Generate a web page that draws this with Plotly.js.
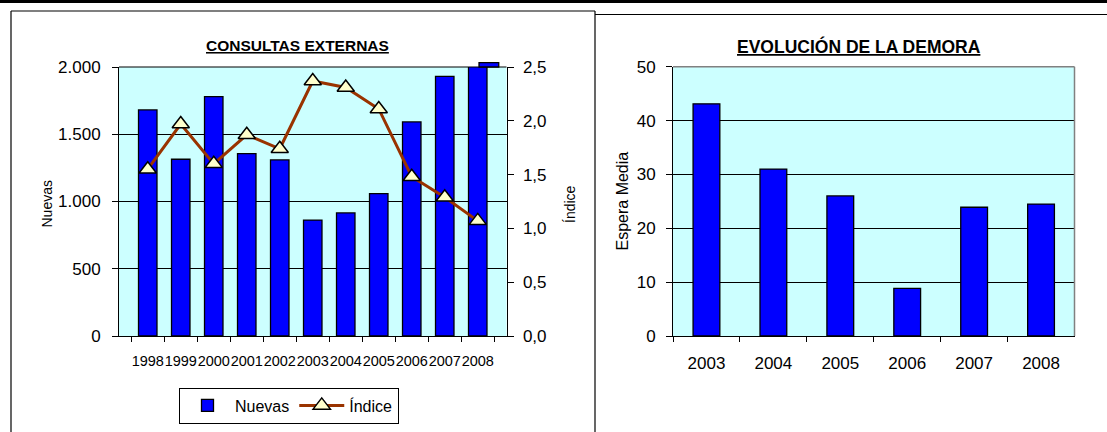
<!DOCTYPE html>
<html>
<head>
<meta charset="utf-8">
<script src="https://cdn.plot.ly/plotly-3.0.1.min.js"></script>
<style>
html,body{margin:0;padding:0;background:#fff;}
#chart{width:1107px;height:432px;}
</style>
</head>
<body>
<div id="chart"></div>
<script>
// ---- data ----
const years1 = ['1998','1999','2000','2001','2002','2003','2004','2005','2006','2007','2008'];
const nuevas = [1681, 1314, 1780, 1356, 1309, 862, 915, 1059, 1592, 1931, 2032];
const indice = [1.55, 1.97, 1.60, 1.87, 1.74, 2.37, 2.31, 2.11, 1.48, 1.29, 1.07];

const years2 = ['2003','2004','2005','2006','2007','2008'];
const espera = [43.1, 31.0, 26.0, 8.85, 23.9, 24.5];

const leftTicks = [0, 500, 1000, 1500, 2000];
const rightTicks = [0, 0.5, 1.0, 1.5, 2.0, 2.5];
const esperaTicks = [0, 10, 20, 30, 40, 50];

// ---- geometry helpers (pixels -> paper) ----
const W = 1107, H = 432;
const px = v => v / W;
const py = v => 1 - v / H;

const FONT = '"Liberation Sans", Arial, sans-serif';

const L = {x0: 119, x1: 506.5, y0: 67, y1: 336};
const R = {x0: 673, x1: 1074.5, y0: 66.7, y1: 336};
const LEFT_MAX = 2000, BAR_W1 = 0.56, BAR_W2 = 0.4;

const bound1 = years1.map((_, i) => i - 0.5).concat([years1.length - 0.5]);
const bound2 = years2.map((_, i) => i - 0.5).concat([years2.length - 0.5]);

const traces = [
  {
    type: 'bar', name: 'Nuevas', x: years1, y: nuevas, xaxis: 'x', yaxis: 'y',
    marker: {color: '#0000FF', line: {color: '#000000', width: 1.3}},
    width: BAR_W1, hoverinfo: 'x+y'
  },
  {
    type: 'scatter', mode: 'lines+markers', name: 'Índice', x: years1, y: indice,
    xaxis: 'x', yaxis: 'y2',
    line: {color: '#993300', width: 3},
    marker: {symbol: 'triangle-up', size: 15, color: '#FFFFCC', line: {color: '#000000', width: 1.5}},
    cliponaxis: false
  },
  {
    type: 'bar', name: 'Espera Media', x: years2, y: espera, xaxis: 'x2', yaxis: 'y3',
    marker: {color: '#0000FF', line: {color: '#000000', width: 1.3}},
    width: BAR_W2, showlegend: false
  }
];

const baseAxis = {
  showline: true, linecolor: '#000000', linewidth: 1,
  zeroline: false, ticks: 'outside', tickcolor: '#000000', tickwidth: 1,
  fixedrange: true
};

const insideAxis = (extra) => Object.assign({
  showline: false, showgrid: false, zeroline: false, showticklabels: false,
  ticks: 'inside', tickcolor: '#000000', tickwidth: 1, tickmode: 'array', fixedrange: true
}, extra);

// portion of bars that run past the top of the left value axis (Excel draws them beyond the frame)
const catW = (L.x1 - L.x0) / years1.length;
const overflowShapes = [];
nuevas.forEach((v, i) => {
  if (v > LEFT_MAX) {
    const cx = L.x0 + (i + 0.5) * catW;
    const yTop = L.y1 - v / LEFT_MAX * (L.y1 - L.y0);
    overflowShapes.push({
      type: 'rect', xref: 'paper', yref: 'paper',
      x0: px(cx - BAR_W1 / 2 * catW), x1: px(cx + BAR_W1 / 2 * catW),
      y0: py(L.y0), y1: py(yTop),
      fillcolor: '#0000FF', line: {color: '#000000', width: 1.3}
    });
  }
});

const layout = {
  width: W, height: H,
  margin: {l: 0, r: 0, t: 0, b: 0},
  paper_bgcolor: '#FFFFFF',
  plot_bgcolor: '#CCFFFF',
  separators: ',.',
  font: {family: FONT, size: 16, color: '#000000'},
  showlegend: true,
  legend: {
    orientation: 'h', x: px(289), xanchor: 'center', y: py(405.5), yanchor: 'middle',
    bordercolor: '#000000', borderwidth: 1, bgcolor: '#FFFFFF',
    font: {family: FONT, size: 16, color: '#000000'},
    itemwidth: 45, tracegroupgap: 0
  },
  xaxis: Object.assign({}, baseAxis, {
    type: 'category', domain: [px(L.x0), px(L.x1)], anchor: 'y',
    tickson: 'boundaries', ticklen: 5, showgrid: false, tickangle: 0,
    tickfont: {family: FONT, size: 14.5, color: '#000000'},
    ticklabelstandoff: 12
  }),
  yaxis: Object.assign({}, baseAxis, {
    domain: [py(L.y1), py(L.y0)], anchor: 'x', range: [0, LEFT_MAX],
    tickmode: 'array', tickvals: leftTicks, tickformat: ',d', ticklen: 6,
    showgrid: true, gridcolor: '#000000', gridwidth: 1,
    tickfont: {family: FONT, size: 17, color: '#000000'},
    ticklabelstandoff: 8
  }),
  yaxis2: Object.assign({}, baseAxis, {
    overlaying: 'y', side: 'right', anchor: 'x', range: [0, 2.5],
    tickmode: 'array', tickvals: rightTicks, tickformat: '.1f', ticklen: 6,
    showgrid: false,
    tickfont: {family: FONT, size: 17, color: '#000000'},
    ticklabelstandoff: 6
  }),
  xaxis2: Object.assign({}, baseAxis, {
    type: 'category', domain: [px(R.x0), px(R.x1)], anchor: 'y3',
    tickson: 'boundaries', ticklen: 5, showgrid: false, tickangle: 0,
    tickfont: {family: FONT, size: 17, color: '#000000'},
    ticklabelstandoff: 12
  }),
  yaxis3: Object.assign({}, baseAxis, {
    domain: [py(R.y1), py(R.y0)], anchor: 'x2', range: [0, 50],
    tickmode: 'array', tickvals: esperaTicks, ticklen: 6,
    showgrid: true, gridcolor: '#000000', gridwidth: 1,
    tickfont: {family: FONT, size: 17, color: '#000000'},
    ticklabelstandoff: 7
  }),
  // inside halves of the cross tick marks
  xaxis3: insideAxis({overlaying: 'x', anchor: 'y', range: [-0.5, years1.length - 0.5], tickvals: bound1, ticklen: 5}),
  yaxis4: insideAxis({overlaying: 'y', anchor: 'x', side: 'left', range: [0, LEFT_MAX], tickvals: leftTicks, ticklen: 6}),
  yaxis5: insideAxis({overlaying: 'y', anchor: 'x', side: 'right', range: [0, 2.5], tickvals: rightTicks, ticklen: 6}),
  xaxis4: insideAxis({overlaying: 'x2', anchor: 'y3', range: [-0.5, years2.length - 0.5], tickvals: bound2, ticklen: 5}),
  yaxis6: insideAxis({overlaying: 'y3', anchor: 'x2', side: 'left', range: [0, 50], tickvals: esperaTicks, ticklen: 6}),
  annotations: [
    {text: '<b><u>CONSULTAS EXTERNAS</u></b>', xref: 'paper', yref: 'paper',
     x: px(297), y: py(45.5), xanchor: 'center', yanchor: 'middle', showarrow: false,
     font: {family: FONT, size: 15.5, color: '#000000'}},
    {text: '<b><u>EVOLUCIÓN DE LA DEMORA</u></b>', xref: 'paper', yref: 'paper',
     x: px(858.7), y: py(47), xanchor: 'center', yanchor: 'middle', showarrow: false,
     font: {family: FONT, size: 17.5, color: '#000000'}},
    {text: 'Nuevas', xref: 'paper', yref: 'paper', textangle: -90,
     x: px(46.5), y: py(204), xanchor: 'center', yanchor: 'middle', showarrow: false,
     font: {family: FONT, size: 14, color: '#000000'}},
    {text: 'Índice', xref: 'paper', yref: 'paper', textangle: -90,
     x: px(570), y: py(204), xanchor: 'center', yanchor: 'middle', showarrow: false,
     font: {family: FONT, size: 14, color: '#000000'}},
    {text: 'Espera Media', xref: 'paper', yref: 'paper', textangle: -90,
     x: px(621.5), y: py(201), xanchor: 'center', yanchor: 'middle', showarrow: false,
     font: {family: FONT, size: 16, color: '#000000'}}
  ],
  shapes: [
    // top black band
    {type: 'rect', xref: 'paper', yref: 'paper', x0: 0, x1: 1, y0: py(3), y1: 1,
     fillcolor: '#000000', line: {width: 0}},
    // left panel frame
    {type: 'line', xref: 'paper', yref: 'paper', x0: px(11), x1: px(11), y0: py(11), y1: 0,
     line: {color: '#000000', width: 1.2}},
    {type: 'line', xref: 'paper', yref: 'paper', x0: px(11), x1: px(595), y0: py(11), y1: py(11),
     line: {color: '#000000', width: 1.2}},
    {type: 'line', xref: 'paper', yref: 'paper', x0: px(595), x1: px(595), y0: py(11), y1: 0,
     line: {color: '#000000', width: 1.2}},
    // right panel top edge
    {type: 'line', xref: 'paper', yref: 'paper', x0: px(595), x1: 1, y0: py(14.5), y1: py(14.5),
     line: {color: '#000000', width: 1.2}},
    // left plot top line
    {type: 'line', xref: 'paper', yref: 'paper', x0: px(L.x0), x1: px(L.x1), y0: py(L.y0), y1: py(L.y0),
     line: {color: '#000000', width: 1}},
    // right plot grey border (top + right)
    {type: 'line', xref: 'paper', yref: 'paper', x0: px(R.x0), x1: px(R.x1), y0: py(R.y0), y1: py(R.y0),
     line: {color: '#808080', width: 1.5}},
    {type: 'line', xref: 'paper', yref: 'paper', x0: px(R.x1), x1: px(R.x1), y0: py(R.y0), y1: py(R.y1),
     line: {color: '#808080', width: 1.5}}
  ].concat(overflowShapes)
};

Plotly.newPlot('chart', traces, layout, {staticPlot: true, displayModeBar: false});
</script>
</body>
</html>
